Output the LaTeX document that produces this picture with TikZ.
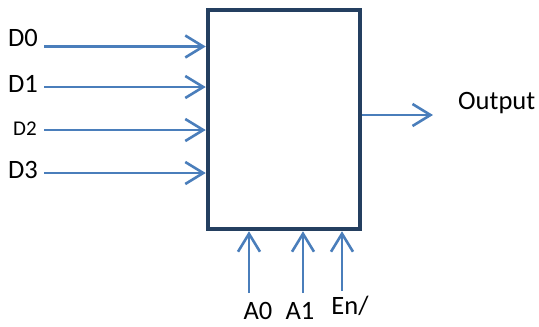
\documentclass[tikz,border=0pt]{standalone}
\usepackage{fontspec}
\setmainfont{Carlito}
\usetikzlibrary{arrows.meta}
\definecolor{boxcol}{HTML}{243F60}
\definecolor{wirecol}{HTML}{4A7EBB}
\tikzset{
  wire/.style={draw=wirecol, line width=2.6pt, -{Straight Barb[length=18pt,width=22pt,line width=2.6pt]}},
  lbl/.style={inner sep=0pt, font=\fontsize{26.5}{31}\selectfont},
  smalllbl/.style={inner sep=0pt, font=\fontsize{21}{25}\selectfont}
}
\begin{document}
\begin{tikzpicture}[x=1pt,y=-1pt]
\useasboundingbox (0,0) rectangle (539,327);
\node[draw=boxcol, line width=4.5pt, minimum width=152pt, minimum height=219pt, inner sep=0pt] (mux) at (284,119.5) {};
% inputs
\coordinate (s0) at (44,46.5);
\coordinate (s1) at (44,87);
\coordinate (s2) at (44,130);
\coordinate (s3) at (44,173);
\coordinate (e0) at (mux.west |- s0);
\coordinate (e1) at (mux.west |- s1);
\coordinate (e2) at (mux.west |- s2);
\coordinate (e3) at (mux.west |- s3);
\draw[wire] (s0) -- (e0);
\draw[wire] (s1) -- (e1);
\draw[wire] (s2) -- (e2);
\draw[wire] (s3) -- (e3);
\node[lbl, anchor=west] (d0) at (8,38) {D0};
\node[lbl, anchor=west] (d1) at (8,84) {D1};
\node[smalllbl, anchor=west] (d2) at (13,129) {D2};
\node[lbl, anchor=west] (d3) at (8,170) {D3};
% bottom
\coordinate (b0) at (249,293);
\coordinate (b1) at (303,293);
\coordinate (b2) at (342,291);
\draw[wire] (b0) -- (b0 |- mux.south);
\draw[wire] (b1) -- (b1 |- mux.south);
\draw[wire] (b2) -- (b2 |- mux.south);
\node[lbl] (a0) at (258,311) {A0};
\node[lbl] (a1) at (300,311) {A1};
\node[lbl] (en) at (350,306) {En/};
% output
\coordinate (o) at (433,115);
\draw[wire] (mux.east |- o) -- (o);
\node[lbl, anchor=west] (out) at (458,103) {Output};
\end{tikzpicture}
\end{document}
